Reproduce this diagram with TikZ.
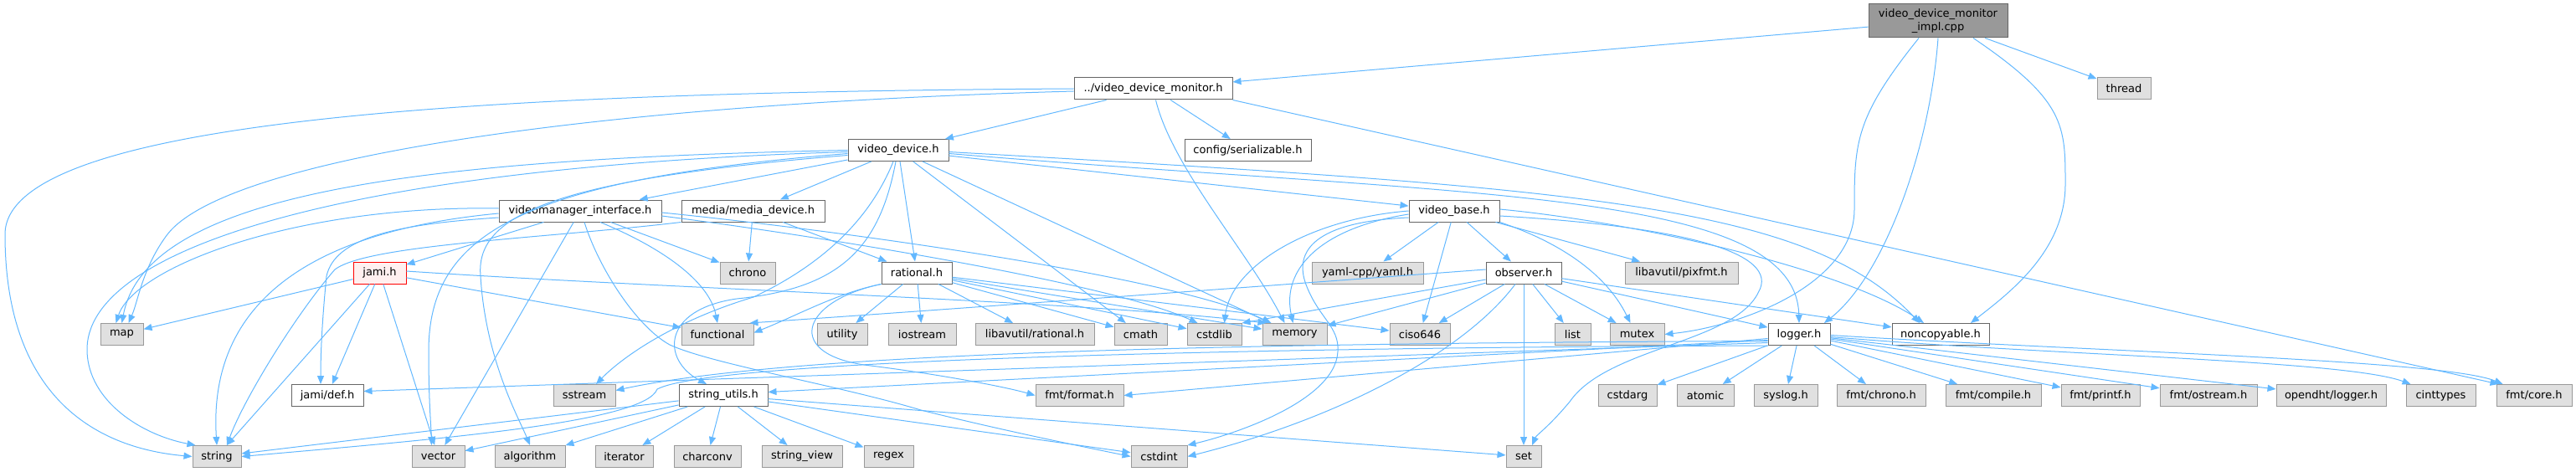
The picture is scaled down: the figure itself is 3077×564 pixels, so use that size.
\documentclass[tikz,border=0pt]{standalone}
\usepackage{fontspec}
\setmainfont{DejaVu Sans}
\usetikzlibrary{arrows.meta}
\definecolor{edgec}{HTML}{63B8FF}
\definecolor{filedraw}{HTML}{666666}
\definecolor{sysdraw}{HTML}{999999}
\definecolor{sysfill}{HTML}{E0E0E0}
\definecolor{rootfill}{HTML}{999999}
\definecolor{jamifill}{HTML}{FFF0F0}
\newcommand{\bx}[6]{\node[#1, minimum width=#5pt] (#2) at (#4,#6) {#3};}
\begin{document}
\begin{tikzpicture}[x=1pt,y=-1pt,
  box/.style={draw, line width=1pt, minimum height=26pt, inner sep=0pt, text=black,
              font=\fontsize{13}{16}\selectfont},
  filen/.style={box, fill=white, draw=filedraw},
  sysn/.style={box, fill=sysfill, draw=sysdraw},
  rootn/.style={box, fill=rootfill, draw=filedraw, minimum height=40pt, align=center},
  jamin/.style={box, fill=jamifill, draw=red},
  e/.style={draw=edgec, line width=1pt, -{Triangle[length=10pt,width=8pt]}}]
\useasboundingbox (0,0) rectangle (3077,564);

% nodes
\bx{rootn}{impl}{video\_device\_monitor\\\_impl.cpp}{2315}{166}{25}
\bx{sysn}{thread}{thread}{2537}{64}{106}
\bx{filen}{monitor}{../video\_device\_monitor.h}{1377.5}{189}{106}
\bx{filen}{videodevice}{video\_device.h}{1073}{120}{179.5}
\bx{filen}{config}{config/serializable.h}{1490.5}{151}{179.5}
\bx{filen}{vmi}{videomanager\_interface.h}{693}{194}{252}
\bx{filen}{mediadev}{media/media\_device.h}{899.5}{171}{252}
\bx{filen}{videobase}{video\_base.h}{1737}{108}{252}
\bx{jamin}{jami}{jami.h}{453.5}{63}{326}
\bx{sysn}{chrono}{chrono}{893}{66}{326}
\bx{filen}{rational}{rational.h}{1095}{84}{326}
\bx{sysn}{yaml}{yaml-cpp/yaml.h}{1633.5}{133}{326}
\bx{filen}{observer}{observer.h}{1820}{90}{326}
\bx{sysn}{pixfmt}{libavutil/pixfmt.h}{2008.5}{135}{326}
\bx{sysn}{map}{map}{145.5}{51}{399.5}
\bx{sysn}{functional}{functional}{857}{86}{399.5}
\bx{sysn}{utility}{utility}{1006}{60}{399.5}
\bx{sysn}{iostream}{iostream}{1101.5}{81}{399.5}
\bx{sysn}{avrational}{libavutil/rational.h}{1236}{142}{399.5}
\bx{sysn}{cmath}{cmath}{1362.5}{63}{399.5}
\bx{sysn}{cstdlib}{cstdlib}{1450.5}{65}{399.5}
\bx{sysn}{memory}{memory}{1546.5}{77}{399.5}
\bx{sysn}{ciso}{ciso646}{1696}{72}{399.5}
\bx{sysn}{list}{list}{1878.5}{43}{399.5}
\bx{sysn}{mutex}{mutex}{1955.5}{65}{399.5}
\bx{filen}{logger}{logger.h}{2149}{74}{399.5}
\bx{filen}{noncopyable}{noncopyable.h}{2318}{116}{399.5}
\bx{filen}{jamidef}{jami/def.h}{391}{86}{472.5}
\bx{sysn}{sstream}{sstream}{698}{74}{472.5}
\bx{filen}{strutils}{string\_utils.h}{864}{106}{472.5}
\bx{sysn}{format}{fmt/format.h}{1289.5}{105}{472.5}
\bx{sysn}{cstdarg}{cstdarg}{1944}{70}{472.5}
\bx{sysn}{atomic}{atomic}{2037}{68}{472.5}
\bx{sysn}{syslog}{syslog.h}{2133}{76}{472.5}
\bx{sysn}{fmtchrono}{fmt/chrono.h}{2247}{106}{472.5}
\bx{sysn}{compile}{fmt/compile.h}{2381}{114}{472.5}
\bx{sysn}{printf}{fmt/printf.h}{2509}{94}{472.5}
\bx{sysn}{ostream}{fmt/ostream.h}{2638}{116}{472.5}
\bx{sysn}{opendht}{opendht/logger.h}{2784.5}{131}{472.5}
\bx{sysn}{cinttypes}{cinttypes}{2915.5}{83}{472.5}
\bx{sysn}{core}{fmt/core.h}{3027}{90}{472.5}
\bx{sysn}{string}{string}{259}{58}{545.5}
\bx{sysn}{vector}{vector}{523.5}{63}{545.5}
\bx{sysn}{algorithm}{algorithm}{633}{84}{545.5}
\bx{sysn}{iterator}{iterator}{745.5}{69}{545.5}
\bx{sysn}{charconv}{charconv}{845}{80}{545.5}
\bx{sysn}{stringview}{string\_view}{958}{96}{545.5}
\bx{sysn}{regex}{regex}{1061.5}{59}{545.5}
\bx{sysn}{cstdint}{cstdint}{1384.5}{67}{545.5}
\bx{sysn}{set}{set}{1820}{42}{545.5}

% impl
\draw[e] (impl) -- (monitor);
\draw[e] (impl) -- (thread);
\draw[e] ([xshift=-23pt]impl.south) .. controls (2216,140) and (2215,170) .. (2215,250) .. controls (2215,340) and (2080,390) .. (mutex.east);
\draw[e] (impl.south) .. controls (2305,180) and (2250,330) .. ([xshift=30pt]logger.north);
\draw[e] ([xshift=42pt]impl.south) .. controls (2467,120) and (2467,150) .. (2467,220) .. controls (2467,300) and (2400,350) .. ([xshift=36pt]noncopyable.north);

% monitor
\draw[e] (monitor) -- (videodevice);
\draw[e] (monitor) -- (config);
\draw[e] (monitor.west) .. controls (600,110) and (6,140) .. (6,280) .. controls (6,470) and (110,535) .. (string.west);
\draw[e] ([yshift=-3pt]monitor.west) .. controls (700,125) and (270,190) .. (200,280) .. controls (170,320) and (165,360) .. ([xshift=8pt]map.north);
\draw[e] ([xshift=3pt]monitor.south) .. controls (1400,200) and (1490,300) .. ([xshift=-12pt]memory.north);
\draw[e] (monitor.south east) -- ([xshift=3pt]core.north west);

% video_device
\draw[e] (videodevice) -- (vmi);
\draw[e] (videodevice) -- (mediadev);
\draw[e] (videodevice) -- (videobase);
\draw[e] (videodevice) -- (rational);
\draw[e] (videodevice) -- (cmath);
\draw[e] (videodevice) -- (memory);
\draw[e] ([yshift=-4pt]videodevice.east) .. controls (1750,235) and (2145,225) .. (logger.north);
\draw[e] ([yshift=-2pt]videodevice.east) .. controls (1900,225) and (2160,245) .. ([xshift=-25pt]noncopyable.north);
\draw[e] (videodevice.west) .. controls (500,190) and (175,230) .. (map.north);
\draw[e] ([yshift=-2pt]videodevice.west) .. controls (400,200) and (100,300) .. (104,420) .. controls (106,480) and (170,520) .. ([xshift=4pt]string.north west);
\draw[e] ([yshift=-4pt]videodevice.west) .. controls (620,215) and (512,280) .. (512,420) .. controls (512,480) and (515,510) .. ([xshift=-8pt]vector.north);
\draw[e] ([yshift=-6pt]videodevice.west) .. controls (650,215) and (568,260) .. (574,330) .. controls (580,430) and (620,500) .. (algorithm.north);
\draw[e] ([xshift=-6pt]videodevice.south) .. controls (1040,260) and (985,315) .. (900,355) .. controls (800,385) and (740,430) .. ([xshift=14pt]sstream.north);
\draw[e] ([xshift=-3pt]videodevice.south) .. controls (1050,300) and (1000,345) .. (880,357) .. controls (790,370) and (790,430) .. ([xshift=-20pt]strutils.north);

% videomanager_interface
\draw[e] (vmi) -- (jami);
\draw[e] ([yshift=-8pt]vmi.west) .. controls (470,268) and (400,285) .. (390,330) .. controls (385,380) and (383,420) .. ([xshift=-8pt]jamidef.north);
\draw[e] ([yshift=3pt]vmi.west) .. controls (350,245) and (160,320) .. ([xshift=-7pt]map.north);
\draw[e] ([yshift=-3pt]vmi.west) .. controls (330,280) and (250,390) .. (string.north);
\draw[e] (vmi) -- (vector);
\draw[e] ([xshift=24pt]vmi.south) .. controls (800,300) and (848,340) .. (functional.north);
\draw[e] (vmi) -- (chrono);
\draw[e] ([xshift=5pt]vmi.south) .. controls (715,320) and (760,390) .. (800,412) .. controls (850,435) and (1000,460) .. (1100,490) .. controls (1200,515) and (1300,535) .. (cstdint.west);
\draw[e] ([yshift=-2pt]vmi.east) .. controls (1000,275) and (1400,330) .. ([xshift=-28pt]memory.north);
\draw[e] ([yshift=-6pt]vmi.east) .. controls (1000,285) and (1330,340) .. ([xshift=-20pt]cstdlib.north);

% media_device
\draw[e] (mediadev) -- (chrono);
\draw[e] (mediadev) -- (rational);
\draw[e] (mediadev.south west) .. controls (650,285) and (440,292) .. (400,322) .. controls (350,380) and (290,480) .. ([xshift=12pt]string.north);

% jami.h
\draw[e] (jami) -- (map);
\draw[e] (jami) -- (functional);
\draw[e] (jami) -- (string);
\draw[e] (jami) -- (jamidef);
\draw[e] (jami) -- (vector);
\draw[e] ([yshift=2pt]jami.east) .. controls (800,345) and (1300,360) .. ([xshift=-34pt]memory.north);

% rational.h
\draw[e] (rational) -- (utility);
\draw[e] (rational) -- (iostream);
\draw[e] (rational) -- (avrational);
\draw[e] (rational) -- (cmath);
\draw[e] (rational) -- (cstdlib);
\draw[e] (rational) -- (memory);
\draw[e] (rational) -- (ciso);
\draw[e] (rational.south west) .. controls (1000,350) and (950,378) .. ([yshift=2pt]functional.east);
\draw[e] (rational.south west) .. controls (955,360) and (935,425) .. (1040,437) .. controls (1120,447) and (1200,462) .. (format.west);

% video_base.h
\draw[e] (videobase) -- (yaml);
\draw[e] (videobase) -- (ciso);
\draw[e] (videobase) -- (observer);
\draw[e] (videobase) -- (pixfmt);
\draw[e] (videobase.west) .. controls (1560,262) and (1470,320) .. ([xshift=12pt]cstdlib.north);
\draw[e] ([yshift=-4pt]videobase.west) .. controls (1580,272) and (1530,320) .. ([xshift=-2pt]memory.north);
\draw[e] ([yshift=-8pt]videobase.west) .. controls (1570,265) and (1545,300) .. (1560,340) .. controls (1575,380) and (1600,390) .. (1598,420) .. controls (1595,480) and (1470,520) .. (cstdint.north east);
\draw[e] (videobase.south east) .. controls (1850,285) and (1915,320) .. ([xshift=-8pt]mutex.north);
\draw[e] ([yshift=-6pt]videobase.east) .. controls (2000,270) and (2130,300) .. (2100,350) .. controls (2070,410) and (1920,415) .. (1875,480) .. controls (1850,510) and (1835,520) .. ([xshift=10pt]set.north);
\draw[e] ([yshift=2pt]videobase.east) .. controls (1950,265) and (2200,320) .. ([xshift=-20pt]noncopyable.north);

% observer.h
\draw[e] (observer) -- (list);
\draw[e] (observer) -- (mutex);
\draw[e] (observer) -- (set);
\draw[e] (observer) -- (ciso);
\draw[e] (observer) -- (memory);
\draw[e] (observer) -- (cstdlib.north east);
\draw[e] ([yshift=4pt]observer.west) .. controls (1400,350) and (1100,372) .. ([xshift=-5pt]functional.north east);
\draw[e] ([xshift=-10pt]observer.south) .. controls (1750,420) and (1600,500) .. (cstdint.east);
\draw[e] (observer) -- (logger);
\draw[e] (observer) -- (noncopyable);

% logger.h
\draw[e] (logger) -- (atomic);
\draw[e] (logger) -- (syslog);
\draw[e] (logger) -- (fmtchrono);
\draw[e] (logger) -- (compile);
\draw[e] (logger) -- (printf);
\draw[e] (logger) -- (ostream);
\draw[e] (logger) -- (opendht);
\draw[e] ([yshift=-3pt]logger.east) .. controls (2450,425) and (2800,430) .. ([xshift=6pt]cinttypes.north west);
\draw[e] ([yshift=-1pt]logger.east) .. controls (2500,420) and (2920,430) .. ([xshift=8pt]core.north west);
\draw[e] (logger) -- (cstdarg);
\draw[e] ([yshift=-5pt]logger.west) -- (format.east);
\draw[e] ([yshift=-10pt]logger.west) -- ([yshift=5pt]jamidef.east);
\draw[e] ([yshift=-8pt]logger.west) .. controls (1500,410) and (950,420) .. ([yshift=6pt]sstream.east);
\draw[e] ([yshift=-7pt]logger.west) -- ([yshift=4pt]strutils.east);
\draw[e] (logger.south west) .. controls (1500,415) and (850,430) .. (785,465) .. controls (770,505) and (520,525) .. (string.east);

% string_utils.h
\draw[e] (strutils) -- (string);
\draw[e] (strutils) -- (vector);
\draw[e] (strutils) -- (algorithm);
\draw[e] (strutils) -- (iterator);
\draw[e] (strutils) -- (charconv);
\draw[e] (strutils) -- (stringview);
\draw[e] (strutils) -- (regex);
\draw[e] (strutils) -- (cstdint);
\draw[e] (strutils) -- (set);
\end{tikzpicture}
\end{document}
